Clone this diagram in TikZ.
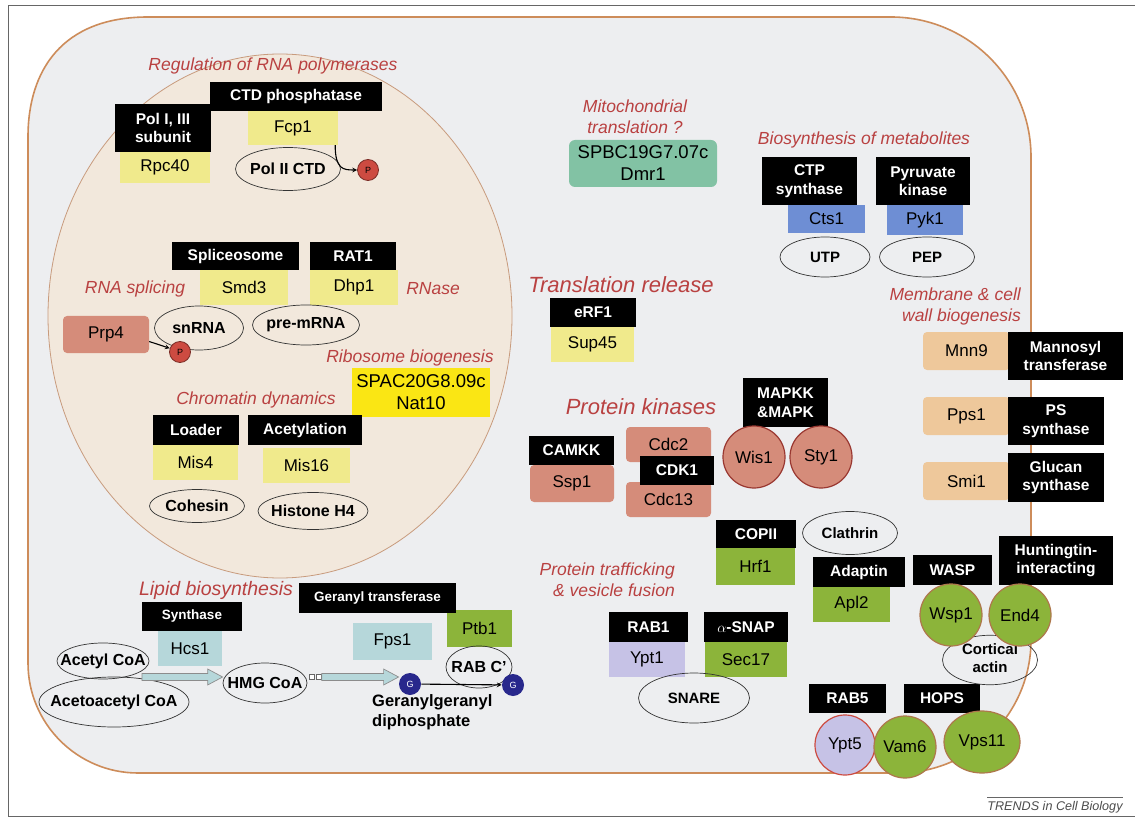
\documentclass[tikz,border=0pt]{standalone}
\usepackage{fontspec}
\setmainfont{Liberation Sans}
\usetikzlibrary{shapes.geometric}
\usetikzlibrary{calc}
\usetikzlibrary{arrows}

\definecolor{headred}{RGB}{185,65,65}
\definecolor{cellfill}{RGB}{237,238,240}
\definecolor{cellline}{RGB}{205,140,90}
\definecolor{nucfill}{RGB}{242,232,220}
\definecolor{nucline}{RGB}{200,155,125}
\definecolor{paleyellow}{RGB}{240,234,140}
\definecolor{brightyellow}{RGB}{250,230,20}
\definecolor{leafgreen}{RGB}{140,180,58}
\definecolor{lavender}{RGB}{198,194,230}
\definecolor{kinasepink}{RGB}{213,140,122}
\definecolor{walltan}{RGB}{238,200,155}
\definecolor{lipidcyan}{RGB}{182,215,218}
\definecolor{metblue}{RGB}{110,142,212}
\definecolor{mitoteal}{RGB}{130,194,164}
\definecolor{gblue}{RGB}{40,40,140}
\definecolor{pred}{RGB}{205,75,65}

% keeps the ellipse size set by minimum width/height only
\newcommand{\nowide}[1]{\makebox[0pt]{#1}}

% hollow block arrow between two points, drawn at the height of the first
\newcommand{\blockarrow}[2]{%
    \draw [big arrow] let \p1=(#1), \p2=(#2) in
        (\x1,\y1+3.5pt) -- (\x2-15pt,\y1+3.5pt) -- (\x2-15pt,\y1+8pt)
        -- (\x2,\y1) -- (\x2-15pt,\y1-8pt) -- (\x2-15pt,\y1-3.5pt)
        -- (\x1,\y1-3.5pt) -- cycle;}

\tikzset{
    >=stealth,
%
    % Black caption naming what the protein does
    blackbox/.style={fill=black, text=white, inner sep=0pt,
        font=\fontsize{15.5}{18.5}\selectfont\bfseries},
%
    % Coloured box holding a gene name
    genebox/.style={inner sep=0pt, font=\fontsize{17}{22}\selectfont},
%
    % Red italic process headings
    heading/.style={text=headred, inner sep=0pt,
        font=\fontsize{17.5}{21}\selectfont\itshape},
    big heading/.style={heading, font=\fontsize{22}{24}\selectfont\itshape},
%
    % Substrates drawn as open ellipses
    oval/.style={draw=black!80, ellipse, inner sep=0pt, line width=0.7pt,
        font=\fontsize{16}{18}\selectfont\bfseries},
    small oval/.style={oval, font=\fontsize{15}{17.5}\selectfont\bfseries},
%
    % Round protein icons
    protein/.style={draw, circle, inner sep=0pt, minimum size=62pt,
        line width=1.2pt, font=\fontsize{17}{19}\selectfont},
%
    % Phosphate and geranylgeranyl groups
    marker/.style={circle, inner sep=0pt, minimum size=21pt, line width=0.8pt,
        font=\fontsize{9}{9}\selectfont},
%
    % Fills for the gene boxes
    yellow fill/.style={fill=paleyellow},
    green fill/.style={fill=leafgreen},
    pink fill/.style={fill=kinasepink, rounded corners=4pt},
    tan fill/.style={fill=walltan, rounded corners=4pt},
    cyan fill/.style={fill=lipidcyan},
    blue fill/.style={fill=metblue},
    lilac fill/.style={fill=lavender},
%
    big arrow/.style={draw=black!45, fill=lipidcyan, line width=0.7pt},
    cell wall/.style={draw=cellline, fill=cellfill, line width=1.6pt},
    nucleus wall/.style={draw=nucline, fill=nucfill, line width=0.8pt},
    frame line/.style={draw=black!60, line width=0.8pt}}

\begin{document}
\begin{tikzpicture}[x=1pt, y=-1pt]

\tikzset{every node/.style={align=center}}

\useasboundingbox (0,0) rectangle (1135,818);
\fill [white] (0,0) rectangle (1135,818);
\draw [frame line] (1135,5) -- (8,5) -- (8,816) -- (1135,816);

% cell and nucleus
\draw [cell wall] (28,137) .. controls (28,70.8) and (61.8,17) .. (148,17)
    -- (891,17) .. controls (968.3,17) and (1031,79.7) .. (1031,157)
    -- (1031,640) .. controls (1031,713.5) and (971.5,773) .. (898,773)
    -- (138,773) .. controls (77.3,773) and (28,723.7) .. (28,663) -- cycle;
\node (nucleus) [nucleus wall, ellipse, inner sep=0pt,
    minimum width=464pt, minimum height=524pt] at (280,316) {};

% gene boxes
\node (rpc40) [genebox, yellow fill, minimum width=90pt, minimum height=31pt] at (165,167.5) {Rpc40};
\node (fcp1) [genebox, yellow fill, minimum width=90pt, minimum height=34pt] at (293,128) {Fcp1};
\node (smd3) [genebox, yellow fill, minimum width=88pt, minimum height=35pt] at (244,287.5) {Smd3};
\node (dhp1) [genebox, yellow fill, minimum width=88pt, minimum height=35pt] at (354,287.5) {Dhp1};
\node (mis4) [genebox, yellow fill, minimum width=85pt, minimum height=35pt] at (195.5,462.5) {Mis4};
\node (mis16) [genebox, yellow fill, minimum width=87pt, minimum height=35pt] at (306.5,465.5) {Mis16};
\node (sup45) [genebox, yellow fill, minimum width=83pt, minimum height=35pt] at (592.5,344.5) {Sup45};
\node (nat10) [genebox, fill=brightyellow, minimum width=138pt, minimum height=49pt,
    font=\fontsize{18.5}{22}\selectfont] at (421,392.5) {SPAC20G8.09c\\Nat10};
\node (dmr1) [genebox, fill=mitoteal, rounded corners=6pt, minimum width=148pt, minimum height=47pt,
    font=\fontsize{18.5}{22}\selectfont] at (643,163.5) {SPBC19G7.07c\\Dmr1};
\node (cts1) [genebox, blue fill, minimum width=77pt, minimum height=28pt] at (826.5,219) {Cts1};
\node (pyk1) [genebox, blue fill, minimum width=76pt, minimum height=30pt] at (925,220) {Pyk1};
\node (prp4) [genebox, pink fill, minimum width=86pt, minimum height=37pt] at (106,334.5) {Prp4};
\node (ssp1) [genebox, pink fill, minimum width=84pt, minimum height=37pt] at (572,483.5) {Ssp1};
\node (cdc2) [genebox, pink fill, minimum width=85pt, minimum height=35pt] at (668.5,444.5) {Cdc2};
\node (cdc13) [genebox, pink fill, minimum width=85pt, minimum height=35pt] at (668.5,499.5) {Cdc13};
\node (mnn9) [genebox, tan fill, minimum width=87pt, minimum height=38pt] at (966.5,351) {Mnn9};
\node (pps1) [genebox, tan fill, minimum width=87pt, minimum height=38pt] at (966.5,416) {Pps1};
\node (smi1) [genebox, tan fill, minimum width=87pt, minimum height=38pt] at (966.5,481) {Smi1};
\node (hcs1) [genebox, cyan fill, minimum width=64pt, minimum height=35pt] at (190,648.5) {Hcs1};
\node (fps1) [genebox, cyan fill, minimum width=79pt, minimum height=37pt] at (392.5,641.5) {Fps1};
\node (ptb1) [genebox, green fill, minimum width=65pt, minimum height=37pt] at (479.5,628.5) {Ptb1};
\node (hrf1) [genebox, green fill, minimum width=79pt, minimum height=37pt] at (755.5,566.5) {Hrf1};
\node (apl2) [genebox, green fill, minimum width=77pt, minimum height=35pt] at (851.5,604.5) {Apl2};
\node (sec17) [genebox, green fill, minimum width=82pt, minimum height=35pt] at (746,659.5) {Sec17};
\node (ypt1) [genebox, lilac fill, minimum width=76pt, minimum height=35pt] at (647,659.5) {Ypt1};

% black captions
\node (poli) [blackbox, minimum width=96pt, minimum height=48pt] at (163,128) {Pol I, III\\subunit};
\node (ctdp) [blackbox, minimum width=172pt, minimum height=29pt] at (296,96.5) {CTD phosphatase};
\node (splice) [blackbox, minimum width=127pt, minimum height=28pt] at (235.5,256) {Spliceosome};
\node (rat1) [blackbox, minimum width=86pt, minimum height=28pt] at (353,256) {RAT1};
\node (loader) [blackbox, minimum width=86pt, minimum height=30pt] at (196,430) {Loader};
\node (acetyl) [blackbox, minimum width=114pt, minimum height=30pt] at (305,430) {Acetylation};
\node (synth) [blackbox, minimum width=100pt, minimum height=29pt,
    font=\fontsize{13.5}{16}\selectfont\bfseries] at (192,616.5) {Synthase};
\node (gert) [blackbox, minimum width=157pt, minimum height=30pt,
    font=\fontsize{13.5}{16}\selectfont\bfseries] at (377.5,598) {Geranyl transferase};
\node (erf1) [blackbox, minimum width=86pt, minimum height=29pt] at (593,312.5) {eRF1};
\node (ctps) [blackbox, minimum width=95pt, minimum height=48pt] at (809.5,181) {CTP\\synthase};
\node (pyrk) [blackbox, minimum width=94pt, minimum height=48pt] at (923,181) {Pyruvate\\kinase};
\node (mannt) [blackbox, minimum width=115pt, minimum height=48pt] at (1065.5,356) {Mannosyl\\transferase};
\node (pss) [blackbox, minimum width=96pt, minimum height=48pt] at (1056,421) {PS\\synthase};
\node (glucs) [blackbox, minimum width=96pt, minimum height=49pt] at (1056,477.5) {Glucan\\synthase};
\node (mapk) [blackbox, minimum width=85pt, minimum height=49pt] at (785.5,402.5) {MAPKK\\\&MAPK};
\node (camkk) [blackbox, minimum width=85pt, minimum height=29pt] at (571.5,450.5) {CAMKK};
\node (cdk1) [blackbox, minimum width=74pt, minimum height=29pt] at (677,470.5) {CDK1};
\node (copii) [blackbox, minimum width=80pt, minimum height=28pt] at (756,534) {COPII};
\node (adaptin) [blackbox, minimum width=92pt, minimum height=30pt] at (859,572) {Adaptin};
\node (wasp) [blackbox, minimum width=79pt, minimum height=30pt] at (952.5,570) {WASP};
\node (hunt) [blackbox, minimum width=114pt, minimum height=49pt] at (1056,560.5) {Huntingtin-\\interacting};
\node (rab1) [blackbox, minimum width=79pt, minimum height=30pt] at (648.5,627) {RAB1};
\node (asnap) [blackbox, minimum width=84pt, minimum height=30pt] at (746,627) {$\alpha$-SNAP};
\node (rab5) [blackbox, minimum width=77pt, minimum height=29pt] at (847.5,698.5) {RAB5};
\node (hops) [blackbox, minimum width=76pt, minimum height=29pt] at (942,698.5) {HOPS};

% substrates
\node (polctd) [oval, minimum width=105pt, minimum height=43pt] at (288,169) {\nowide{Pol II CTD}};
\node (snrna) [oval, minimum width=89pt, minimum height=44pt] at (199,328) {\nowide{snRNA}};
\node (premrna) [oval, minimum width=107pt, minimum height=40pt] at (306,325) {\nowide{pre-mRNA}};
\node (cohesin) [oval, minimum width=95pt, minimum height=33pt] at (197,506) {\nowide{Cohesin}};
\node (histone) [oval, minimum width=110pt, minimum height=37pt] at (313,511) {\nowide{Histone H4}};
\node (acoa) [oval, minimum width=92pt, minimum height=36pt] at (103,661) {\nowide{Acetyl CoA}};
\node (aacoa) [oval, minimum width=150pt, minimum height=50pt] at (114,702) {\nowide{Acetoacetyl CoA}};
\node (hmg) [oval, minimum width=84pt, minimum height=40pt] at (265,683) {\nowide{HMG CoA}};
\node (rabc) [oval, minimum width=66pt, minimum height=42pt] at (479,667) {\nowide{RAB C'}};
\node (utp) [small oval, minimum width=90pt, minimum height=40pt] at (825,257) {\nowide{UTP}};
\node (pep) [small oval, minimum width=95pt, minimum height=40pt] at (927,257) {\nowide{PEP}};
\node (snare) [small oval, minimum width=111pt, minimum height=50pt] at (694,698) {\nowide{SNARE}};
\node (clathrin) [small oval, minimum width=95pt, minimum height=43pt] at (850,533) {\nowide{Clathrin}};
\node (cortical) [small oval, minimum width=95pt, minimum height=45pt] at (990,660)
    {\nowide{\begin{tabular}{@{}c@{}}Cortical\\actin\end{tabular}}};

% round proteins
\node (wis1) [protein, fill=kinasepink, draw=pred!75!black] at (754,457) {Wis1};
\node (sty1) [protein, fill=kinasepink, draw=pred!75!black] at (821,457) {Sty1};
\node (wsp1) [protein, fill=leafgreen, draw=cellline!85!black] at (951,615) {Wsp1};
\node (end4) [protein, fill=leafgreen, draw=cellline!85!black] at (1020,615) {End4};
\node (ypt5) [protein, fill=lavender, draw=pred, minimum size=60pt] at (845,745) {Ypt5};
\node (vam6) [protein, fill=leafgreen, draw=cellline!85!black] at (905,747) {Vam6};
\node (vps11) [protein, ellipse, fill=leafgreen, draw=cellline!85!black,
    minimum width=76pt, minimum height=62pt] at (982,742) {Vps11};

% phosphate and geranylgeranyl groups
\node (p1) [marker, fill=pred, draw=pred!60!black] at (368,170) {P};
\node (p2) [marker, fill=pred, draw=pred!60!black] at (180,352) {P};
\node (g1) [marker, fill=gblue, text=white, minimum size=22pt] at (410,684) {G};
\node (g2) [marker, fill=gblue, text=white, minimum size=22pt] at (513,685) {G};
\node (sq1) [draw=black!60, fill=white, minimum size=5pt, inner sep=0pt, line width=0.5pt] at (312,677) {};
\node (sq2) [draw=black!60, fill=white, minimum size=5pt, inner sep=0pt, line width=0.5pt] at (319,677) {};
\coordinate (coa) at (142,677);

% reactions
\draw [->, line width=1.1pt] ([xshift=-3pt]fcp1.south east) .. controls +(0,24) and +(-14,0) .. (p1.west);
\draw [->, line width=1.1pt] ([yshift=-7pt]prp4.east) -- (p2.160);
\blockarrow{coa}{hmg.west}
\blockarrow{sq2.east}{g1.west}
\draw [->, line width=1.1pt] (g1) -- (g2);

% headings
\node (regpol) [heading] at (273,66) {Regulation of RNA polymerases};
\node (splicing) [heading] at (135,289) {RNA splicing};
\node (rnase) [heading] at (433,289) {RNase};
\node (ribo) [heading] at (410,358) {Ribosome biogenesis};
\node (chromatin) [heading] at (256,400) {Chromatin dynamics};
\node (lipid) [heading, font=\fontsize{19.5}{22}\selectfont\itshape] at (216,590) {Lipid biosynthesis};
\node (mito) [heading] at (635,116.5) {Mitochondrial\\translation ?};
\node (release) [big heading] at (621,285) {Translation release};
\node (metab) [heading] at (864,140) {Biosynthesis of metabolites};
\node (membrane) [heading, anchor=east, align=right] at (1021,306) {Membrane \& cell\\wall biogenesis};
\node (kinases) [big heading] at (641,407) {Protein kinases};
\node (traffic) [heading, anchor=east, align=right] at (675,580) {Protein trafficking\\\& vesicle fusion};
\node (ggpp) [anchor=west, align=left, inner sep=0pt,
    font=\fontsize{16.5}{20}\selectfont\bfseries] at (372,712) {Geranylgeranyl\\diphosphate};

% journal mark
\node (trends) [inner sep=0pt, text=black!70, font=\fontsize{12.6}{14}\selectfont\itshape] at (1055,807)
    {TRENDS in Cell Biology};
\draw [black!60, line width=0.6pt] ([yshift=4pt]trends.north west) -- ([yshift=4pt]trends.north east);

\end{tikzpicture}
\end{document}
